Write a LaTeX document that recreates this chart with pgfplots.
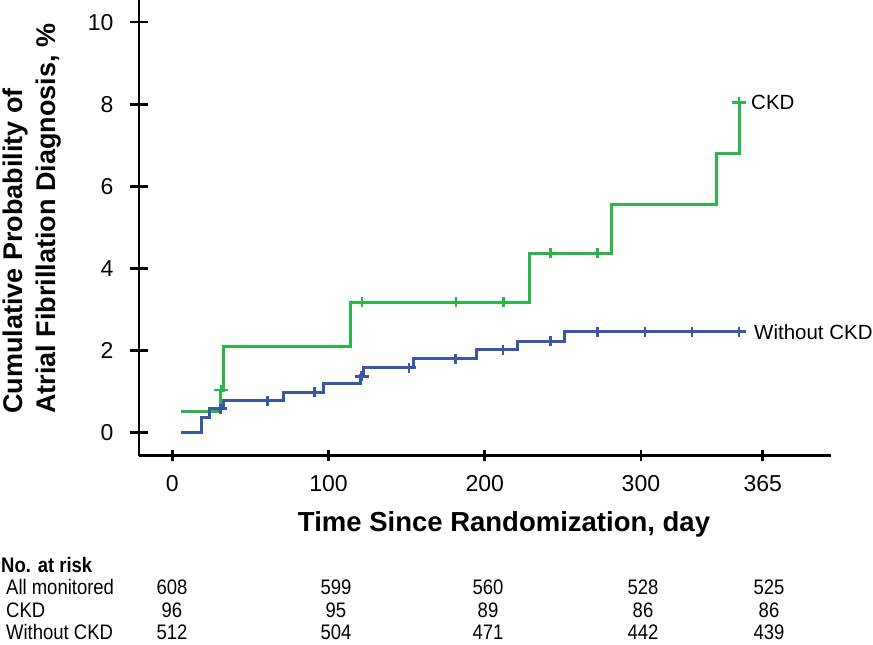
\documentclass[border=0pt]{standalone}
\usepackage{fontspec}
\setmainfont{Liberation Sans}
\newfontfamily\narrowfont[FakeStretch=0.88]{Liberation Sans}
\usepackage{pgfplots}
\pgfplotsset{compat=1.18}
\definecolor{ckdgreen}{RGB}{44,182,74}
\definecolor{nockdblue}{RGB}{57,86,168}

\begin{document}
\begin{tikzpicture}
\pgfplotsset{
  kmbase/.style={
    scale only axis, width=692bp, height=455.7bp,
    xmin=-21.3, xmax=421.7, ymin=-0.56, ymax=10.54,
    at={(0,0)}, anchor=south west,
    tick align=outside,
    /pgf/number format/assume math mode=true,
    ticklabel style={font=\fontsize{23bp}{27bp}\selectfont},
  }
}
\begin{axis}[kmbase,
  axis x line=bottom, axis y line=left,
  every outer x axis line/.append style={-, line width=2.6bp, black},
  every outer y axis line/.append style={-, line width=2.6bp, black},
  x axis line style={-, line width=2.6bp, black},
  y axis line style={-, line width=2.6bp, black},
  every tick/.append style={line width=2.6bp, black},
  major tick style={line width=2.6bp, black},
  xtick={0,100,200,300,378}, xticklabels={0,100,200,300,365},
  xticklabel style={yshift=-11bp},
  ytick=\empty,
  major tick length=11bp,
  clip=false,
]
% CKD
\addplot[const plot, color=ckdgreen, line width=3bp] coordinates {
 (5.6,0.51) (31.0,1.04) (32.7,2.11) (114.4,3.18) (229,4.37) (280.9,5.57) (348.1,6.81) (362.8,8.05) (363.5,8.05)
};
\addplot[only marks, mark=+, color=ckdgreen, mark size=5bp, mark options={line width=2.8bp, xscale=1.4}] coordinates {
 (31.2,1.04) (121.4,3.18) (181.6,3.18) (211.9,3.18) (242,4.37) (272.1,4.37) (362.8,8.05)
};
% Without CKD
\addplot[const plot, color=nockdblue, line width=3bp] coordinates {
 (5.6,0) (18.8,0.375) (23.7,0.58) (33.1,0.78) (71.1,0.985) (97.1,1.19) (120.6,1.39) (122.2,1.58)
 (154.7,1.80) (194.9,2.015) (220.9,2.23) (251,2.46) (363.5,2.46)
};
\addplot[only marks, mark=+, color=nockdblue, mark size=5bp, mark options={line width=2.8bp, xscale=1.4}] coordinates {
 (30.7,0.58) (60.8,0.78) (90.9,0.985) (121.2,1.37) (151.5,1.58) (181.4,1.80) (211.7,2.015)
 (242.2,2.23) (272.1,2.46) (302.6,2.46) (332.7,2.46) (362.8,2.46)
};
\node[anchor=west, inner sep=0pt, xshift=12bp, font=\fontsize{20.5bp}{24bp}\selectfont] at (axis cs:362.8,8.05) {CKD};
\node[anchor=west, inner sep=0pt, xshift=15bp, font=\fontsize{20.5bp}{24bp}\selectfont] at (axis cs:362.8,2.46) {Without CKD};
\end{axis}
\begin{axis}[kmbase, axis x line=none, axis y line=left,
  every outer y axis line/.append style={-, line width=2.6bp, black},
  y axis line style={-, line width=2.6bp, black},
  every tick/.append style={line width=2.6bp, black},
  major tick style={line width=2.6bp, black},
  xtick=\empty, ytick={0,2,4,6,8,10}, major tick length=18bp,
  yticklabel style={xshift=-13bp}]
\end{axis}
% axis titles
\node[rotate=90, anchor=west, align=left, inner sep=0pt,
  font=\fontsize{27bp}{33bp}\selectfont\bfseries] at (-107bp,41.7bp)
  {Cumulative Probability of\\Atrial Fibrillation Diagnosis, \%};
\node[anchor=base, inner sep=0pt, font=\fontsize{27.5bp}{33bp}\selectfont\bfseries]
  at (365bp,-76bp) {Time Since Randomization, day};
% number at risk table
\begin{scope}[every node/.style={inner sep=0pt, font=\narrowfont\fontsize{21bp}{24bp}\selectfont}]
\node[anchor=west, font=\narrowfont\fontsize{21bp}{24bp}\selectfont\bfseries] at (-138bp,-109.3bp) {No. at risk};
\node[anchor=west] at (-133bp,-131.3bp) {All monitored};
\node[anchor=west] at (-133bp,-154.3bp) {CKD};
\node[anchor=west] at (-133bp,-176.3bp) {Without CKD};
\foreach \x/\a/\b/\c in {33/608/96/512, 197/599/95/504, 349/560/89/471, 504/528/86/442, 630/525/86/439}{
  \node at (\x bp,-131.3bp) {\a};
  \node at (\x bp,-154.3bp) {\b};
  \node at (\x bp,-176.3bp) {\c};
}
\end{scope}
\pgfresetboundingbox
\path[use as bounding box] (-139bp,-189.3bp) rectangle (734bp,455.7bp);
\end{tikzpicture}
\end{document}
